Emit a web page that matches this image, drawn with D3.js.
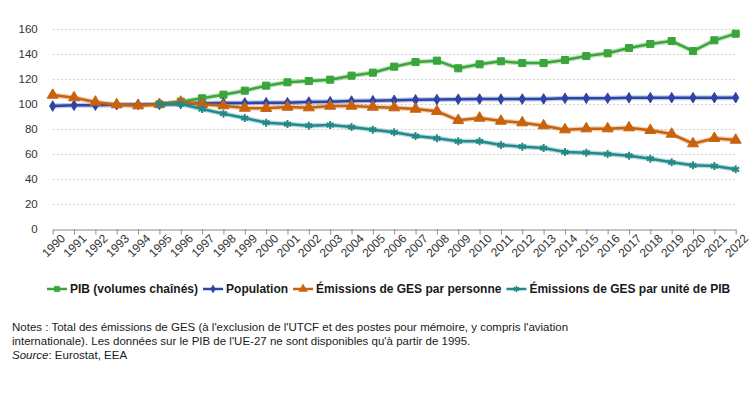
<!DOCTYPE html>
<html>
<head>
<meta charset="utf-8">
<script src="https://cdn.jsdelivr.net/npm/d3@7"></script>
<style>
  body { margin: 0; background: #fff; }
  text { font-family: "Liberation Sans", Arial, sans-serif; }
</style>
</head>
<body>
<div id="main-vis"></div>
<script>
const years = ["1990","1991","1992","1993","1994","1995","1996","1997","1998","1999",
  "2000","2001","2002","2003","2004","2005","2006","2007","2008","2009","2010","2011",
  "2012","2013","2014","2015","2016","2017","2018","2019","2020","2021","2022"]

const yTicks = [0, 20, 40, 60, 80, 100, 120, 140, 160]

// PIB starts in 1995
const gdp = [null, null, null, null, null,
  100, 102.1, 104.8, 107.7, 110.9, 114.9, 117.6, 118.6, 119.7, 122.9, 125.3, 130.1,
  133.8, 134.9, 128.8, 132.0, 134.4, 133.0, 133.0, 135.4, 138.6, 140.8, 145.0, 148.2,
  150.6, 142.6, 151.2, 156.5]

const population = [98.6, 99.2, 99.3, 99.7, 99.9, 100, 100.5, 100.8, 101.0, 101.1,
  101.2, 101.3, 101.8, 102.1, 102.6, 102.9, 103.2, 103.6, 103.8, 104.1, 104.2, 104.2,
  104.2, 104.3, 104.8, 104.8, 104.9, 105.2, 105.3, 105.3, 105.3, 105.3, 105.3]

const perPerson = [107.4, 105.3, 101.8, 99.7, 98.9, 100, 101.8, 100.0, 98.9, 97.0,
  96.8, 97.8, 97.3, 98.6, 98.6, 97.8, 97.3, 96.2, 94.4, 87.2, 89.0, 86.6, 85.3, 82.9,
  79.7, 80.5, 80.5, 81.3, 79.2, 76.2, 68.5, 72.8, 71.4]

const perGdp = [null, null, null, null, null,
  100, 100.2, 96.2, 92.5, 89.0, 85.3, 84.2, 82.9, 83.4, 81.8, 79.7, 77.6, 74.6, 72.8,
  70.4, 70.4, 67.4, 66.1, 65.0, 61.8, 61.3, 60.2, 58.9, 56.5, 53.6, 51.2, 50.6, 48.0]

const seriesNames = ["PIB (volumes chaînés)", "Population",
  "Émissions de GES par personne", "Émissions de GES par unité de PIB"]

const notes = [
  "Notes : Total des émissions de GES (à l'exclusion de l'UTCF et des postes pour mémoire, y compris l'aviation",
  "internationale). Les données sur le PIB de l'UE-27 ne sont disponibles qu'à partir de 1995."
]

const series = [
  {name: seriesNames[0], values: gdp, color: "#3aa53a", symbol: d3.symbolSquare, size: 50, fill: true},
  {name: seriesNames[1], values: population, color: "#2b44a6", symbol: d3.symbolDiamond, size: 32, fill: true},
  {name: seriesNames[2], values: perPerson, color: "#c8620c", symbol: d3.symbolTriangle, size: 52, fill: true},
  {name: seriesNames[3], values: perGdp, color: "#23898b", symbol: d3.symbolAsterisk, size: 45, fill: false}
]

const width = 755, height = 396

const svg = d3.select("#main-vis").append("svg")
  .attr("width", width)
  .attr("height", height)

const x = d3.scalePoint().domain(years).range([52.7, 735.7])
const y = d3.scaleLinear().domain([0, 160]).range([229.3, 29.3])

// gridlines
svg.append("g")
  .selectAll("line")
  .data(yTicks.filter(d => d > 0))
  .join("line")
    .attr("x1", 52.7).attr("x2", 735.7)
    .attr("y1", d => Math.round(y(d)) + 0.5).attr("y2", d => Math.round(y(d)) + 0.5)
    .attr("stroke", "#cfcfcf")
    .attr("stroke-dasharray", "2,2")

// y axis labels
const yAxis = svg.append("g")
  .attr("transform", "translate(52.7,0)")
  .call(d3.axisLeft(y).tickValues(yTicks).tickSize(0).tickPadding(15))
yAxis.select(".domain").remove()
yAxis.selectAll("text")
  .attr("font-size", 11.5)
  .attr("font-family", "Liberation Sans, Arial, sans-serif")
  .attr("fill", "#333")

// x axis
const xAxis = svg.append("g")
  .attr("transform", "translate(0,229.5)")
  .call(d3.axisBottom(x).tickSize(5).tickSizeOuter(0))
xAxis.select(".domain").attr("stroke", "#8c8c8c")
xAxis.selectAll(".tick line").attr("stroke", "#8c8c8c")
xAxis.selectAll("text")
  .attr("font-size", 12)
  .attr("font-family", "Liberation Sans, Arial, sans-serif")
  .attr("fill", "#333")
  .attr("text-anchor", "end")
  .attr("dy", 0)
  .attr("transform", "translate(7,4) rotate(-45)")

const line = d3.line()
  .defined(d => d != null)
  .x((d, i) => x(years[i]))
  .y(d => y(d))

const lines = svg.append("g")
series.forEach(s => {
  lines.append("path")
    .attr("d", line(s.values))
    .attr("fill", "none")
    .attr("stroke", s.color)
    .attr("stroke-opacity", 0.3)
    .attr("stroke-width", 5)
  lines.append("path")
    .attr("d", line(s.values))
    .attr("fill", "none")
    .attr("stroke", s.color)
    .attr("stroke-width", 2.5)
  lines.append("g")
    .selectAll("path")
    .data(s.values.map((v, i) => ({v, i})).filter(d => d.v != null))
    .join("path")
      .attr("transform", d => `translate(${x(years[d.i])},${y(d.v)})`)
      .attr("d", d3.symbol(s.symbol, s.size))
      .attr("fill", s.fill ? s.color : "none")
      .attr("stroke", s.color)
      .attr("stroke-width", s.fill ? 1 : 2)
})

// legend
const legend = svg.append("g").attr("transform", "translate(0,289)")
let cx = 47
series.forEach(s => {
  const g = legend.append("g").attr("transform", `translate(${cx},0)`)
  g.append("line").attr("x1", 0).attr("x2", 20).attr("stroke", s.color).attr("stroke-width", 2.5)
  g.append("path")
    .attr("transform", "translate(10,0)")
    .attr("d", d3.symbol(s.symbol, s.size * 0.6))
    .attr("fill", s.fill ? s.color : "none")
    .attr("stroke", s.color)
    .attr("stroke-width", s.fill ? 0.5 : 1.5)
  const t = g.append("text")
    .attr("x", 23).attr("dy", "0.35em")
    .attr("font-size", 12).attr("font-weight", "bold").attr("fill", "#1a1a1a")
    .text(s.name)
  cx += 23 + t.node().getComputedTextLength() + 5
})

// notes
const noteG = svg.append("g").attr("font-size", 11.5).attr("fill", "#1a1a1a")
noteG.selectAll("text.note")
  .data(notes)
  .join("text")
    .attr("class", "note")
    .attr("x", 12)
    .attr("y", (d, i) => 331 + i * 14)
    .text(d => d)
const src = noteG.append("text").attr("x", 12).attr("y", 359)
src.append("tspan").attr("font-style", "italic").text("Source")
src.append("tspan").text(": Eurostat, EEA")
</script>
</body>
</html>
